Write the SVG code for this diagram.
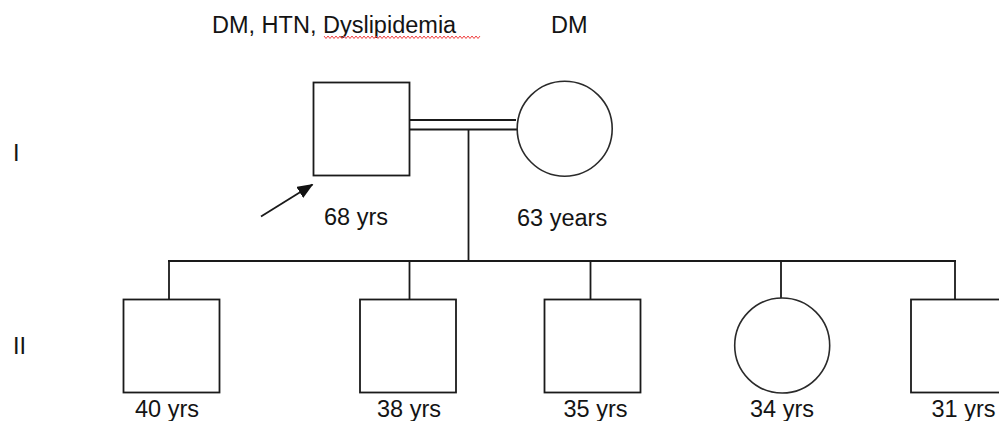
<svg xmlns="http://www.w3.org/2000/svg" width="999" height="421" viewBox="0 0 999 421">
<style>
.t{font-family:"Liberation Sans",Arial,sans-serif;font-size:23.5px;fill:#141414}
.sq{fill:#fff;stroke:#1a1a1a;stroke-width:1.8}
.ci{fill:#fff;stroke:#2a2a2a;stroke-width:1.6}
.ln{fill:none;stroke:#1a1a1a;stroke-width:1.8}
</style>
<defs>
<marker id="ah" viewBox="0 0 16 13" refX="15" refY="6.5" markerWidth="16" markerHeight="13" markerUnits="userSpaceOnUse" orient="auto">
<path d="M0,0 L16,6.5 L0,13 Z" fill="#111"/>
</marker>
</defs>
<rect width="999" height="421" fill="#fff"/>
<g id="labels">
<text class="t" x="212" y="33">DM, HTN, Dyslipidemia</text>
<path d="M324,36 l2,2.5 l2,-2.5 l2,2.5 l2,-2.5 l2,2.5 l2,-2.5 l2,2.5 l2,-2.5 l2,2.5 l2,-2.5 l2,2.5 l2,-2.5 l2,2.5 l2,-2.5 l2,2.5 l2,-2.5 l2,2.5 l2,-2.5 l2,2.5 l2,-2.5 l2,2.5 l2,-2.5 l2,2.5 l2,-2.5 l2,2.5 l2,-2.5 l2,2.5 l2,-2.5 l2,2.5 l2,-2.5 l2,2.5 l2,-2.5 l2,2.5 l2,-2.5 l2,2.5 l2,-2.5 l2,2.5 l2,-2.5 l2,2.5 l2,-2.5 l2,2.5 l2,-2.5 l2,2.5 l2,-2.5 l2,2.5 l2,-2.5 l2,2.5 l2,-2.5 l2,2.5 l2,-2.5 l2,2.5 l2,-2.5 l2,2.5 l2,-2.5 l2,2.5 l2,-2.5 l2,2.5 l2,-2.5 l2,2.5 l2,-2.5 l2,2.5 l2,-2.5 l2,2.5 l2,-2.5 l2,2.5 l2,-2.5 l2,2.5 l2,-2.5 l2,2.5 l2,-2.5 l2,2.5 l2,-2.5 l2,2.5 l2,-2.5 l2,2.5 l2,-2.5 l2,2.5 l2,-2.5" fill="none" stroke="#f04040" stroke-width="1"/>
<text class="t" x="551" y="33">DM</text>
<text class="t" x="13" y="161">I</text>
<text class="t" x="13" y="354">II</text>
</g>
<g id="connectors">
<line class="ln" x1="404" y1="120" x2="516" y2="120"/>
<line class="ln" x1="409" y1="129.5" x2="517" y2="129.5"/>
<line class="ln" x1="468.5" y1="129.5" x2="468.5" y2="261"/>
<line class="ln" x1="168" y1="261" x2="956" y2="261"/>
<line class="ln" x1="169" y1="261" x2="169" y2="299.5"/>
<line class="ln" x1="409.5" y1="261" x2="409.5" y2="299.5"/>
<line class="ln" x1="590.5" y1="261" x2="590.5" y2="299.5"/>
<line class="ln" x1="781" y1="261" x2="781" y2="298"/>
<line class="ln" x1="955" y1="261" x2="955" y2="299.5"/>
<line class="ln" x1="261" y1="216.5" x2="312.5" y2="184.5" marker-end="url(#ah)"/>
</g>
<g id="I-1">
<rect class="sq" x="313.5" y="82.5" width="96" height="93"/>
<text class="t" x="324" y="225">68 yrs</text>
</g>
<g id="I-2">
<circle class="ci" cx="564.7" cy="128.7" r="47.5"/>
<text class="t" x="517" y="225.5">63 years</text>
</g>
<g id="II-1">
<rect class="sq" x="123.5" y="299.5" width="96" height="93"/>
<text class="t" x="135" y="417">40 yrs</text>
</g>
<g id="II-2">
<rect class="sq" x="360" y="299.5" width="96" height="93"/>
<text class="t" x="377" y="417">38 yrs</text>
</g>
<g id="II-3">
<rect class="sq" x="544.5" y="299.5" width="96" height="93"/>
<text class="t" x="563.5" y="417">35 yrs</text>
</g>
<g id="II-4">
<circle class="ci" cx="782.2" cy="345.5" r="47.5"/>
<text class="t" x="750" y="417">34 yrs</text>
</g>
<g id="II-5">
<rect class="sq" x="911" y="299.5" width="96" height="93"/>
<text class="t" x="931.5" y="417">31 yrs</text>
</g>
</svg>
